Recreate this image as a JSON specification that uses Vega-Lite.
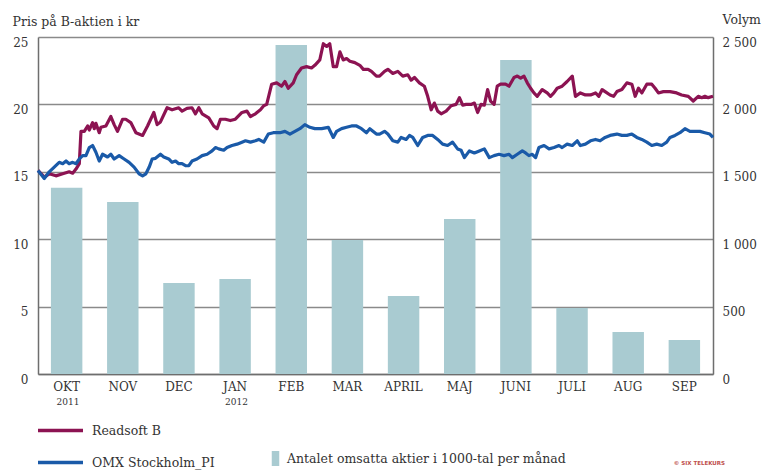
{
  "$schema": "https://vega.github.io/schema/vega-lite/v6.json",
  "autosize": {"type": "none"},
  "padding": {"left": 38, "top": 37, "right": 54, "bottom": 97},
  "width": 675,
  "height": 337,
  "title": {"text": "© SIX TELEKURS", "orient": "bottom", "anchor": "end", "frame": "group", "fontSize": 5.5, "fontWeight": "bold", "font": "DejaVu Sans", "color": "#c0504d", "offset": -9, "dx": 12},
  "config": {
    "font": "DejaVu Serif",
    "view": {"stroke": null},
    "axis": {"labelColor": "#333", "titleColor": "#333", "labelFont": "DejaVu Serif", "titleFont": "DejaVu Serif", "titleFontWeight": "normal"},
    "legend": {"labelColor": "#333", "labelFont": "DejaVu Serif", "labelLimit": 500}
  },
  "datasets": {
    "months": [
      {"m": "OKT", "v": 1382}, {"m": "NOV", "v": 1276}, {"m": "DEC", "v": 675}, {"m": "JAN", "v": 705},
      {"m": "FEB", "v": 2441}, {"m": "MAR", "v": 994}, {"m": "APRIL", "v": 579}, {"m": "MAJ", "v": 1150},
      {"m": "JUNI", "v": 2329}, {"m": "JULI", "v": 490}, {"m": "AUG", "v": 312}, {"m": "SEP", "v": 252}
    ],
    "lines": [
      {"s":"Readsoft B","d":0,"p":15.1},{"s":"Readsoft B","d":3.4,"p":14.6},{"s":"Readsoft B","d":6.1,"p":14.85},{"s":"Readsoft B","d":9.7,"p":14.7},{"s":"Readsoft B","d":13.4,"p":14.85},{"s":"Readsoft B","d":16.9,"p":15.0},{"s":"Readsoft B","d":18.8,"p":14.9},{"s":"Readsoft B","d":20.6,"p":15.2},{"s":"Readsoft B","d":22.4,"p":15.6},{"s":"Readsoft B","d":23.3,"p":18.0},{"s":"Readsoft B","d":25.1,"p":18.0},{"s":"Readsoft B","d":26.9,"p":18.4},{"s":"Readsoft B","d":27.8,"p":18.1},{"s":"Readsoft B","d":29.6,"p":18.65},{"s":"Readsoft B","d":30.5,"p":18.2},{"s":"Readsoft B","d":31.4,"p":18.6},{"s":"Readsoft B","d":33.2,"p":17.9},{"s":"Readsoft B","d":34.1,"p":18.3},{"s":"Readsoft B","d":36.8,"p":18.4},{"s":"Readsoft B","d":39.5,"p":19.1},{"s":"Readsoft B","d":41.3,"p":18.5},{"s":"Readsoft B","d":43.1,"p":18.0},{"s":"Readsoft B","d":45.9,"p":18.9},{"s":"Readsoft B","d":47.6,"p":18.9},{"s":"Readsoft B","d":50.3,"p":18.65},{"s":"Readsoft B","d":53.1,"p":17.9},{"s":"Readsoft B","d":56.7,"p":17.7},{"s":"Readsoft B","d":59.4,"p":18.4},{"s":"Readsoft B","d":62.8,"p":19.4},{"s":"Readsoft B","d":64.6,"p":18.5},{"s":"Readsoft B","d":66.4,"p":18.7},{"s":"Readsoft B","d":70.0,"p":19.75},{"s":"Readsoft B","d":72.7,"p":19.6},{"s":"Readsoft B","d":76.3,"p":19.75},{"s":"Readsoft B","d":78.1,"p":19.5},{"s":"Readsoft B","d":80.8,"p":19.7},{"s":"Readsoft B","d":83.5,"p":19.75},{"s":"Readsoft B","d":85.4,"p":19.3},{"s":"Readsoft B","d":87.2,"p":19.75},{"s":"Readsoft B","d":89.0,"p":19.3},{"s":"Readsoft B","d":92.6,"p":19.0},{"s":"Readsoft B","d":95.3,"p":18.4},{"s":"Readsoft B","d":97.1,"p":18.2},{"s":"Readsoft B","d":98.9,"p":18.9},{"s":"Readsoft B","d":101.6,"p":18.9},{"s":"Readsoft B","d":104.3,"p":18.8},{"s":"Readsoft B","d":107.0,"p":18.9},{"s":"Readsoft B","d":110.6,"p":19.4},{"s":"Readsoft B","d":113.3,"p":19.5},{"s":"Readsoft B","d":115.2,"p":19.1},{"s":"Readsoft B","d":117.9,"p":19.3},{"s":"Readsoft B","d":120.6,"p":19.6},{"s":"Readsoft B","d":122.4,"p":19.9},{"s":"Readsoft B","d":124.0,"p":20.0},{"s":"Readsoft B","d":126.7,"p":21.5},{"s":"Readsoft B","d":129.4,"p":21.6},{"s":"Readsoft B","d":132.1,"p":21.35},{"s":"Readsoft B","d":133.9,"p":21.7},{"s":"Readsoft B","d":135.7,"p":21.2},{"s":"Readsoft B","d":138.4,"p":21.6},{"s":"Readsoft B","d":140.2,"p":22.2},{"s":"Readsoft B","d":142.9,"p":22.7},{"s":"Readsoft B","d":145.6,"p":22.8},{"s":"Readsoft B","d":148.3,"p":22.7},{"s":"Readsoft B","d":150.1,"p":22.9},{"s":"Readsoft B","d":152.8,"p":23.3},{"s":"Readsoft B","d":154.7,"p":24.5},{"s":"Readsoft B","d":156.5,"p":24.3},{"s":"Readsoft B","d":158.2,"p":24.5},{"s":"Readsoft B","d":160.1,"p":22.8},{"s":"Readsoft B","d":161.9,"p":22.8},{"s":"Readsoft B","d":163.7,"p":23.9},{"s":"Readsoft B","d":165.5,"p":23.3},{"s":"Readsoft B","d":167.3,"p":23.4},{"s":"Readsoft B","d":169.1,"p":23.2},{"s":"Readsoft B","d":171.8,"p":23.1},{"s":"Readsoft B","d":174.5,"p":22.9},{"s":"Readsoft B","d":176.4,"p":22.6},{"s":"Readsoft B","d":179.0,"p":22.6},{"s":"Readsoft B","d":180.8,"p":22.45},{"s":"Readsoft B","d":183.5,"p":22.1},{"s":"Readsoft B","d":185.2,"p":22.1},{"s":"Readsoft B","d":187.9,"p":22.45},{"s":"Readsoft B","d":189.7,"p":22.6},{"s":"Readsoft B","d":192.4,"p":22.3},{"s":"Readsoft B","d":195.1,"p":22.45},{"s":"Readsoft B","d":197.8,"p":22.1},{"s":"Readsoft B","d":200.5,"p":22.2},{"s":"Readsoft B","d":202.3,"p":21.8},{"s":"Readsoft B","d":204.1,"p":22.0},{"s":"Readsoft B","d":206.8,"p":21.6},{"s":"Readsoft B","d":209.5,"p":21.35},{"s":"Readsoft B","d":211.3,"p":20.6},{"s":"Readsoft B","d":213.2,"p":19.6},{"s":"Readsoft B","d":214.9,"p":20.1},{"s":"Readsoft B","d":216.7,"p":19.5},{"s":"Readsoft B","d":218.6,"p":19.3},{"s":"Readsoft B","d":221.3,"p":19.5},{"s":"Readsoft B","d":224.0,"p":19.9},{"s":"Readsoft B","d":226.7,"p":20.0},{"s":"Readsoft B","d":228.5,"p":20.5},{"s":"Readsoft B","d":230.3,"p":19.95},{"s":"Readsoft B","d":232.1,"p":20.0},{"s":"Readsoft B","d":234.8,"p":20.0},{"s":"Readsoft B","d":236.6,"p":20.1},{"s":"Readsoft B","d":238.4,"p":19.4},{"s":"Readsoft B","d":240.2,"p":20.0},{"s":"Readsoft B","d":242.0,"p":19.95},{"s":"Readsoft B","d":243.8,"p":21.1},{"s":"Readsoft B","d":245.4,"p":20.25},{"s":"Readsoft B","d":247.3,"p":20.0},{"s":"Readsoft B","d":249.0,"p":21.35},{"s":"Readsoft B","d":250.8,"p":21.5},{"s":"Readsoft B","d":253.5,"p":21.5},{"s":"Readsoft B","d":255.4,"p":21.35},{"s":"Readsoft B","d":258.1,"p":22.0},{"s":"Readsoft B","d":259.9,"p":22.1},{"s":"Readsoft B","d":261.7,"p":21.95},{"s":"Readsoft B","d":263.5,"p":22.1},{"s":"Readsoft B","d":265.3,"p":21.6},{"s":"Readsoft B","d":267.1,"p":21.2},{"s":"Readsoft B","d":268.9,"p":20.85},{"s":"Readsoft B","d":270.7,"p":20.6},{"s":"Readsoft B","d":273.4,"p":21.1},{"s":"Readsoft B","d":276.1,"p":20.85},{"s":"Readsoft B","d":277.9,"p":20.6},{"s":"Readsoft B","d":279.7,"p":20.85},{"s":"Readsoft B","d":281.5,"p":21.2},{"s":"Readsoft B","d":284.2,"p":21.35},{"s":"Readsoft B","d":286.9,"p":21.7},{"s":"Readsoft B","d":289.7,"p":22.1},{"s":"Readsoft B","d":291.4,"p":20.6},{"s":"Readsoft B","d":294.1,"p":20.85},{"s":"Readsoft B","d":296.8,"p":20.7},{"s":"Readsoft B","d":299.6,"p":20.7},{"s":"Readsoft B","d":302.3,"p":20.85},{"s":"Readsoft B","d":304.1,"p":20.6},{"s":"Readsoft B","d":305.9,"p":21.1},{"s":"Readsoft B","d":307.5,"p":20.95},{"s":"Readsoft B","d":310.2,"p":20.7},{"s":"Readsoft B","d":312.1,"p":20.6},{"s":"Readsoft B","d":313.9,"p":20.95},{"s":"Readsoft B","d":316.6,"p":21.1},{"s":"Readsoft B","d":319.3,"p":21.6},{"s":"Readsoft B","d":322.0,"p":21.5},{"s":"Readsoft B","d":323.8,"p":20.6},{"s":"Readsoft B","d":325.6,"p":21.2},{"s":"Readsoft B","d":327.4,"p":20.85},{"s":"Readsoft B","d":330.1,"p":21.5},{"s":"Readsoft B","d":332.8,"p":21.5},{"s":"Readsoft B","d":334.6,"p":21.2},{"s":"Readsoft B","d":336.4,"p":20.85},{"s":"Readsoft B","d":339.1,"p":20.95},{"s":"Readsoft B","d":342.7,"p":20.95},{"s":"Readsoft B","d":346.3,"p":20.85},{"s":"Readsoft B","d":349.0,"p":20.7},{"s":"Readsoft B","d":352.6,"p":20.6},{"s":"Readsoft B","d":355.3,"p":20.25},{"s":"Readsoft B","d":358.0,"p":20.6},{"s":"Readsoft B","d":359.9,"p":20.5},{"s":"Readsoft B","d":361.6,"p":20.6},{"s":"Readsoft B","d":363.4,"p":20.5},{"s":"Readsoft B","d":366,"p":20.6},
      {"s":"OMX Stockholm_PI","d":0,"p":15.1},{"s":"OMX Stockholm_PI","d":3.4,"p":14.5},{"s":"OMX Stockholm_PI","d":6.1,"p":15.0},{"s":"OMX Stockholm_PI","d":8.8,"p":15.35},{"s":"OMX Stockholm_PI","d":11.5,"p":15.7},{"s":"OMX Stockholm_PI","d":13.4,"p":15.6},{"s":"OMX Stockholm_PI","d":15.2,"p":15.8},{"s":"OMX Stockholm_PI","d":16.9,"p":15.6},{"s":"OMX Stockholm_PI","d":18.8,"p":15.7},{"s":"OMX Stockholm_PI","d":20.6,"p":15.6},{"s":"OMX Stockholm_PI","d":22.4,"p":15.95},{"s":"OMX Stockholm_PI","d":24.2,"p":16.2},{"s":"OMX Stockholm_PI","d":26.0,"p":16.2},{"s":"OMX Stockholm_PI","d":27.8,"p":16.8},{"s":"OMX Stockholm_PI","d":29.6,"p":16.95},{"s":"OMX Stockholm_PI","d":31.4,"p":16.45},{"s":"OMX Stockholm_PI","d":33.2,"p":15.8},{"s":"OMX Stockholm_PI","d":35.0,"p":16.3},{"s":"OMX Stockholm_PI","d":37.7,"p":16.1},{"s":"OMX Stockholm_PI","d":39.5,"p":16.3},{"s":"OMX Stockholm_PI","d":41.3,"p":15.95},{"s":"OMX Stockholm_PI","d":44.0,"p":16.2},{"s":"OMX Stockholm_PI","d":46.7,"p":15.95},{"s":"OMX Stockholm_PI","d":49.4,"p":15.7},{"s":"OMX Stockholm_PI","d":52.1,"p":15.35},{"s":"OMX Stockholm_PI","d":54.8,"p":14.85},{"s":"OMX Stockholm_PI","d":56.7,"p":14.7},{"s":"OMX Stockholm_PI","d":58.5,"p":14.85},{"s":"OMX Stockholm_PI","d":60.3,"p":15.35},{"s":"OMX Stockholm_PI","d":61.9,"p":15.95},{"s":"OMX Stockholm_PI","d":63.7,"p":16.0},{"s":"OMX Stockholm_PI","d":66.4,"p":16.3},{"s":"OMX Stockholm_PI","d":68.2,"p":16.1},{"s":"OMX Stockholm_PI","d":70.9,"p":15.95},{"s":"OMX Stockholm_PI","d":72.7,"p":15.7},{"s":"OMX Stockholm_PI","d":74.6,"p":15.8},{"s":"OMX Stockholm_PI","d":76.3,"p":15.6},{"s":"OMX Stockholm_PI","d":78.1,"p":15.6},{"s":"OMX Stockholm_PI","d":80.0,"p":15.45},{"s":"OMX Stockholm_PI","d":81.8,"p":15.45},{"s":"OMX Stockholm_PI","d":83.5,"p":15.8},{"s":"OMX Stockholm_PI","d":86.2,"p":15.95},{"s":"OMX Stockholm_PI","d":89.0,"p":16.2},{"s":"OMX Stockholm_PI","d":91.7,"p":16.3},{"s":"OMX Stockholm_PI","d":94.4,"p":16.55},{"s":"OMX Stockholm_PI","d":96.2,"p":16.8},{"s":"OMX Stockholm_PI","d":98.0,"p":16.7},{"s":"OMX Stockholm_PI","d":100.7,"p":16.6},{"s":"OMX Stockholm_PI","d":102.5,"p":16.8},{"s":"OMX Stockholm_PI","d":105.2,"p":16.95},{"s":"OMX Stockholm_PI","d":107.9,"p":17.05},{"s":"OMX Stockholm_PI","d":110.6,"p":17.2},{"s":"OMX Stockholm_PI","d":112.5,"p":17.3},{"s":"OMX Stockholm_PI","d":115.2,"p":17.2},{"s":"OMX Stockholm_PI","d":117.9,"p":17.3},{"s":"OMX Stockholm_PI","d":119.7,"p":17.4},{"s":"OMX Stockholm_PI","d":122.4,"p":17.2},{"s":"OMX Stockholm_PI","d":124.9,"p":17.8},{"s":"OMX Stockholm_PI","d":127.6,"p":17.9},{"s":"OMX Stockholm_PI","d":131.2,"p":17.9},{"s":"OMX Stockholm_PI","d":133.9,"p":18.0},{"s":"OMX Stockholm_PI","d":136.6,"p":17.8},{"s":"OMX Stockholm_PI","d":139.3,"p":18.0},{"s":"OMX Stockholm_PI","d":142.0,"p":18.2},{"s":"OMX Stockholm_PI","d":144.7,"p":18.5},{"s":"OMX Stockholm_PI","d":147.4,"p":18.3},{"s":"OMX Stockholm_PI","d":150.1,"p":18.2},{"s":"OMX Stockholm_PI","d":153.8,"p":18.2},{"s":"OMX Stockholm_PI","d":157.4,"p":18.3},{"s":"OMX Stockholm_PI","d":160.1,"p":17.55},{"s":"OMX Stockholm_PI","d":161.9,"p":18.0},{"s":"OMX Stockholm_PI","d":164.6,"p":18.2},{"s":"OMX Stockholm_PI","d":167.3,"p":18.3},{"s":"OMX Stockholm_PI","d":170.0,"p":18.4},{"s":"OMX Stockholm_PI","d":172.7,"p":18.4},{"s":"OMX Stockholm_PI","d":175.4,"p":18.2},{"s":"OMX Stockholm_PI","d":178.1,"p":17.9},{"s":"OMX Stockholm_PI","d":179.9,"p":18.2},{"s":"OMX Stockholm_PI","d":183.5,"p":17.8},{"s":"OMX Stockholm_PI","d":185.2,"p":17.8},{"s":"OMX Stockholm_PI","d":187.9,"p":18.0},{"s":"OMX Stockholm_PI","d":189.7,"p":17.8},{"s":"OMX Stockholm_PI","d":192.4,"p":17.3},{"s":"OMX Stockholm_PI","d":195.1,"p":17.2},{"s":"OMX Stockholm_PI","d":196.9,"p":17.55},{"s":"OMX Stockholm_PI","d":199.6,"p":17.4},{"s":"OMX Stockholm_PI","d":201.4,"p":17.7},{"s":"OMX Stockholm_PI","d":203.2,"p":17.55},{"s":"OMX Stockholm_PI","d":205.9,"p":16.95},{"s":"OMX Stockholm_PI","d":208.6,"p":17.55},{"s":"OMX Stockholm_PI","d":211.3,"p":17.7},{"s":"OMX Stockholm_PI","d":214.0,"p":17.7},{"s":"OMX Stockholm_PI","d":216.7,"p":17.4},{"s":"OMX Stockholm_PI","d":219.4,"p":17.05},{"s":"OMX Stockholm_PI","d":222.1,"p":16.95},{"s":"OMX Stockholm_PI","d":224.8,"p":17.2},{"s":"OMX Stockholm_PI","d":227.5,"p":16.7},{"s":"OMX Stockholm_PI","d":229.4,"p":16.6},{"s":"OMX Stockholm_PI","d":231.2,"p":16.05},{"s":"OMX Stockholm_PI","d":233.9,"p":16.55},{"s":"OMX Stockholm_PI","d":236.6,"p":16.4},{"s":"OMX Stockholm_PI","d":239.3,"p":16.55},{"s":"OMX Stockholm_PI","d":242.0,"p":16.7},{"s":"OMX Stockholm_PI","d":244.7,"p":16.05},{"s":"OMX Stockholm_PI","d":247.3,"p":16.2},{"s":"OMX Stockholm_PI","d":250.0,"p":16.3},{"s":"OMX Stockholm_PI","d":252.7,"p":16.2},{"s":"OMX Stockholm_PI","d":255.4,"p":16.3},{"s":"OMX Stockholm_PI","d":257.2,"p":16.05},{"s":"OMX Stockholm_PI","d":259.9,"p":16.3},{"s":"OMX Stockholm_PI","d":262.6,"p":16.55},{"s":"OMX Stockholm_PI","d":264.4,"p":16.4},{"s":"OMX Stockholm_PI","d":266.2,"p":16.2},{"s":"OMX Stockholm_PI","d":268.0,"p":16.3},{"s":"OMX Stockholm_PI","d":269.8,"p":16.05},{"s":"OMX Stockholm_PI","d":271.6,"p":16.8},{"s":"OMX Stockholm_PI","d":274.4,"p":16.95},{"s":"OMX Stockholm_PI","d":277.1,"p":16.7},{"s":"OMX Stockholm_PI","d":279.8,"p":16.8},{"s":"OMX Stockholm_PI","d":282.5,"p":16.95},{"s":"OMX Stockholm_PI","d":284.2,"p":16.8},{"s":"OMX Stockholm_PI","d":286.9,"p":17.05},{"s":"OMX Stockholm_PI","d":289.7,"p":16.95},{"s":"OMX Stockholm_PI","d":292.4,"p":17.3},{"s":"OMX Stockholm_PI","d":294.1,"p":16.95},{"s":"OMX Stockholm_PI","d":296.8,"p":17.05},{"s":"OMX Stockholm_PI","d":299.6,"p":17.3},{"s":"OMX Stockholm_PI","d":302.3,"p":17.4},{"s":"OMX Stockholm_PI","d":304.8,"p":17.3},{"s":"OMX Stockholm_PI","d":307.5,"p":17.55},{"s":"OMX Stockholm_PI","d":310.2,"p":17.7},{"s":"OMX Stockholm_PI","d":313.9,"p":17.8},{"s":"OMX Stockholm_PI","d":316.6,"p":17.7},{"s":"OMX Stockholm_PI","d":319.3,"p":17.7},{"s":"OMX Stockholm_PI","d":322.0,"p":17.8},{"s":"OMX Stockholm_PI","d":324.7,"p":17.55},{"s":"OMX Stockholm_PI","d":327.4,"p":17.4},{"s":"OMX Stockholm_PI","d":330.1,"p":17.2},{"s":"OMX Stockholm_PI","d":332.8,"p":16.95},{"s":"OMX Stockholm_PI","d":335.5,"p":17.05},{"s":"OMX Stockholm_PI","d":338.2,"p":16.95},{"s":"OMX Stockholm_PI","d":340.9,"p":17.2},{"s":"OMX Stockholm_PI","d":342.7,"p":17.55},{"s":"OMX Stockholm_PI","d":345.4,"p":17.7},{"s":"OMX Stockholm_PI","d":348.1,"p":17.9},{"s":"OMX Stockholm_PI","d":350.8,"p":18.2},{"s":"OMX Stockholm_PI","d":353.5,"p":18.0},{"s":"OMX Stockholm_PI","d":356.2,"p":18.0},{"s":"OMX Stockholm_PI","d":358.9,"p":18.0},{"s":"OMX Stockholm_PI","d":361.6,"p":17.9},{"s":"OMX Stockholm_PI","d":364.3,"p":17.8},{"s":"OMX Stockholm_PI","d":366,"p":17.55}
    ]
  },
  "layer": [
    {
      "data": {"name": "months"},
      "mark": {"type": "bar"},
      "encoding": {
        "x": {
          "field": "m", "type": "nominal", "sort": null,
          "scale": {"paddingInner": 0.44, "paddingOuter": 0.23},
          "axis": {"title": null, "labelAngle": 0, "ticks": false, "labelPadding": 7, "labelFontSize": 12, "domainColor": "#6e6e6e", "domainWidth": 1.5}
        },
        "y": {
          "field": "v", "type": "quantitative",
          "scale": {"domain": [0, 2500], "nice": false},
          "axis": {
            "orient": "right", "values": [0, 500, 1000, 1500, 2000, 2500], "grid": false, "ticks": false,
            "labelPadding": 9, "labelFontSize": 12, "labelBaseline": "middle", "labelOffset": 5,
            "labelExpr": "replace(format(datum.value, ','), ',', ' ')",
            "domainColor": "#6e6e6e", "domainWidth": 1.5,
            "title": "Volym", "titleAngle": 0, "titleAlign": "left", "titleBaseline": "alphabetic",
            "titleX": 9, "titleY": -14, "titleFontSize": 12.5
          }
        },
        "fill": {
          "datum": "Antalet omsatta aktier i 1000-tal per månad", "type": "nominal",
          "scale": {"range": ["#a9cbd1"]},
          "legend": {
            "orient": "none", "legendX": 230, "legendY": 414, "title": null, "padding": 0,
            "symbolType": "M-0.5,-1H0.5V1H-0.5Z", "symbolSize": 225, "symbolStrokeWidth": 0,
            "labelFontSize": 12.5, "labelOffset": 4, "labelLimit": 500
          }
        }
      }
    },
    {
      "data": {"name": "lines"},
      "mark": {"type": "line", "strokeWidth": 3.2, "strokeJoin": "round"},
      "encoding": {
        "x": {
          "field": "d", "type": "quantitative",
          "scale": {"domain": [0, 366], "nice": false, "zero": false},
          "axis": {
            "orient": "bottom", "values": [16, 107.4], "labelExpr": "datum.value < 50 ? '2011' : '2012'",
            "labelFontSize": 9, "labelPadding": 23, "ticks": false, "domain": false, "grid": false, "title": null
          }
        },
        "y": {
          "field": "p", "type": "quantitative",
          "scale": {"domain": [0, 25], "nice": false},
          "axis": {
            "orient": "left", "values": [0, 5, 10, 15, 20, 25], "grid": true, "gridColor": "#8a8a8a", "gridWidth": 1.5,
            "ticks": false, "labelPadding": 10, "labelFontSize": 12, "labelBaseline": "middle", "labelOffset": 5,
            "domainColor": "#6e6e6e", "domainWidth": 1.5,
            "title": "Pris på B-aktien i kr", "titleAngle": 0, "titleAlign": "left", "titleBaseline": "alphabetic",
            "titleX": -26, "titleY": -12, "titleFontSize": 12.5
          }
        },
        "color": {
          "field": "s", "type": "nominal",
          "scale": {"domain": ["Readsoft B", "OMX Stockholm_PI"], "range": ["#8c1352", "#1a5aa8"]},
          "legend": {
            "orient": "none", "legendX": -2, "legendY": 369, "title": null, "padding": 0, "direction": "vertical",
            "symbolType": "stroke", "symbolSize": 2025, "symbolStrokeWidth": 3.5,
            "labelFontSize": 12.5, "labelOffset": 7, "rowPadding": -4, "labelLimit": 500
          }
        }
      }
    }
  ],
  "resolve": {"scale": {"x": "independent", "y": "independent"}, "axis": {"x": "independent", "y": "independent"}}
}
